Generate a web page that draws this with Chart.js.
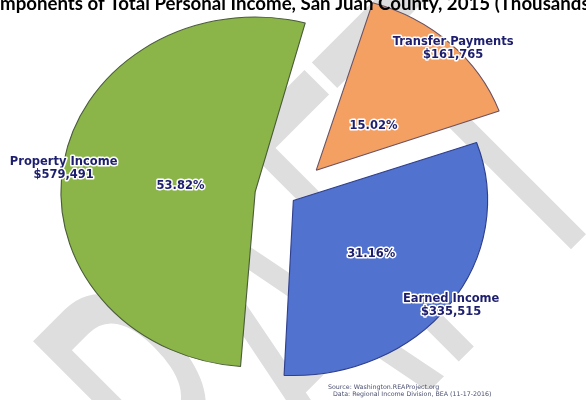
<!DOCTYPE html>
<html><head><meta charset="utf-8">
<script src="https://cdn.jsdelivr.net/npm/chart.js@4.4.0/dist/chart.umd.min.js"></script>
<style>html,body{margin:0;padding:0;background:#fff;}canvas{display:block;}</style>
</head><body>
<canvas id="c" width="586" height="400"></canvas>
<script>
// ---- data ----
const categories = ['Transfer Payments', 'Earned Income', 'Property Income'];
const values = [161765, 335515, 579491];
const valueLabels = ['$161,765', '$335,515', '$579,491'];
const percentLabels = ['15.02%', '31.16%', '53.82%'];
const titleText = 'Components of Total Personal Income, San Juan County, 2015 (Thousands of Dollars)';
const sourceLines = ['Source: Washington.REAProject.org', 'Data: Regional Income Division, BEA (11-17-2016)'];
const watermarkText = 'DRAFT';

// ---- styling ----
const sliceColors = ['#f5a063', '#5172cf', '#8bb449'];
const sliceBorders = ['#6a5262', '#2f3f8c', '#4a5c3a'];
const explodePx = [37, 6, 30];
const RADIUS = 175;
const XSCALE = 1.11;
const pctFrac = [0.39, 0.5, 0.39];
const nameFrac = [1.0, 1.0, 1.0];
const pctNudge = [[5, 5], [0, 1], [0, 5]];
const nameNudge = [[3, 5], [2, 0], [0, 6]];
const LABEL_COLOR = '#1d1f6e';
const LABEL_FONT = 'bold 11.5px "DejaVu Sans"';

const geometryPlugin = {
  id: 'geometry',
  afterDatasetsUpdate(chart) {
    chart.getDatasetMeta(0).data.forEach((arc, i) => {
      const circ = arc.endAngle - arc.startAngle;
      const fix = 1 - Math.sin(Math.min(Math.PI, circ));
      arc.outerRadius = RADIUS - explodePx[i] * fix;
    });
  },
  beforeDraw(chart) {
    // page watermark, tall and narrow, running diagonally
    const ctx = chart.ctx;
    ctx.save();
    ctx.rotate(-Math.PI / 4);
    const sx = 0.5;
    ctx.scale(sx, 1);
    ctx.font = '440px Lato';
    const wHead = ctx.measureText('DRAF').width;
    const wT = ctx.measureText('T').width;
    const start = 238 / sx - wHead - wT / 2;
    ctx.textAlign = 'left';
    ctx.textBaseline = 'alphabetic';
    ctx.fillStyle = '#dedede';
    ctx.fillText(watermarkText, start, 580);
    ctx.restore();
  },
  beforeDatasetsDraw(chart) {
    const ctx = chart.ctx;
    const arc = chart.getDatasetMeta(0).data[0];
    ctx.save();
    ctx.translate(arc.x, 0);
    ctx.scale(XSCALE, 1);
    ctx.translate(-arc.x, 0);
  },
  afterDatasetsDraw(chart) {
    chart.ctx.restore();
  },
  afterDraw(chart) {
    const ctx = chart.ctx;
    const meta = chart.getDatasetMeta(0);
    const halo = (txt, x, y) => {
      ctx.strokeText(txt, x, y);
      ctx.fillText(txt, x, y);
    };
    ctx.save();
    ctx.font = LABEL_FONT;
    ctx.textAlign = 'center';
    ctx.textBaseline = 'middle';
    ctx.lineJoin = 'round';
    ctx.lineWidth = 3;
    ctx.strokeStyle = '#ffffff';
    ctx.fillStyle = LABEL_COLOR;
    meta.data.forEach((arc, i) => {
      const mid = (arc.startAngle + arc.endAngle) / 2;
      const c = Math.cos(mid), s = Math.sin(mid);
      const vx = arc.x + XSCALE * c * explodePx[i];
      const vy = arc.y + s * explodePx[i];
      const px = vx + XSCALE * c * RADIUS * pctFrac[i] + pctNudge[i][0];
      const py = vy + s * RADIUS * pctFrac[i] + pctNudge[i][1];
      halo(percentLabels[i], px, py);
      const nx = vx + XSCALE * c * RADIUS * nameFrac[i] + nameNudge[i][0];
      const ny = vy + s * RADIUS * nameFrac[i] + nameNudge[i][1];
      halo(categories[i], nx, ny - 6.5);
      halo(valueLabels[i], nx, ny + 6.5);
    });
    ctx.restore();

    // title (cropped at top edge)
    ctx.save();
    let size = 18;
    const visible = titleText.slice(2, titleText.indexOf(' of Dollars'));
    ctx.font = 'bold ' + size + 'px Lato';
    size = size * 590 / ctx.measureText(visible).width;
    ctx.font = 'bold ' + size + 'px Lato';
    const lead = ctx.measureText(titleText.slice(0, 2)).width;
    ctx.fillStyle = '#000000';
    ctx.textAlign = 'left';
    ctx.textBaseline = 'alphabetic';
    ctx.fillText(titleText, -lead, 9.5);
    ctx.restore();

    // source note
    ctx.save();
    ctx.font = '6.3px "DejaVu Sans"';
    ctx.fillStyle = '#4a4f70';
    ctx.textAlign = 'left';
    ctx.textBaseline = 'alphabetic';
    ctx.fillText(sourceLines[0], 328, 389);
    ctx.fillText(sourceLines[1], 333, 396);
    ctx.restore();
  }
};

new Chart(document.getElementById('c'), {
  type: 'pie',
  data: {
    labels: categories,
    datasets: [{
      data: values,
      backgroundColor: sliceColors,
      borderColor: sliceBorders,
      borderWidth: 1,
      offset: explodePx.map(d => d * 4),
      hoverOffset: 0
    }]
  },
  options: {
    responsive: false,
    animation: false,
    rotation: 16.5,
    radius: RADIUS,
    layout: { padding: { left: 0, right: 10, top: 0, bottom: 6 } },
    plugins: {
      legend: { display: false },
      tooltip: { enabled: false },
      title: { display: false }
    },
    events: []
  },
  plugins: [geometryPlugin]
});
</script>
</body></html>
